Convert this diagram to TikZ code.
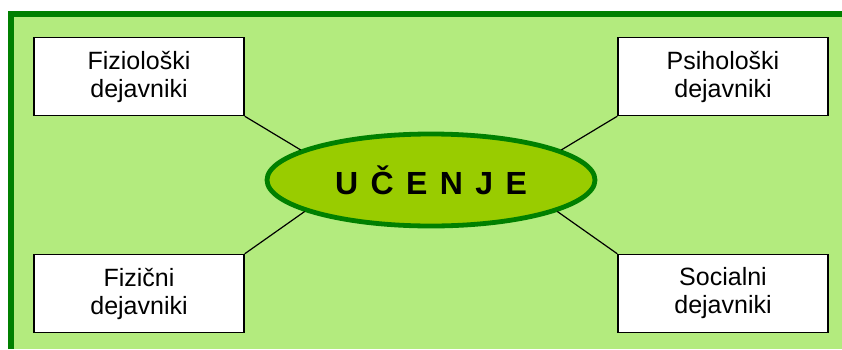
\documentclass[tikz,border=0pt]{standalone}
\usepackage{fontspec}
\setmainfont{Liberation Sans}
\usetikzlibrary{shapes.geometric}
\definecolor{panelgreen}{RGB}{179,235,126}
\definecolor{framegreen}{RGB}{0,128,0}
\definecolor{corefill}{RGB}{153,204,0}
\newcommand{\lgap}{\hspace{6.2pt}}

\begin{document}
\begin{tikzpicture}[
    x=0.5pt, y=-0.5pt,
    factor/.style={draw=black, line width=0.75pt, fill=white, align=center, inner sep=0pt,
        minimum width=105pt, minimum height=39pt, font=\fontsize{12.5}{14}\selectfont},
    core/.style={ellipse, draw=framegreen, line width=2.4pt, fill=corefill, inner sep=0pt,
        minimum width=164pt, minimum height=46pt, font=\fontsize{16}{18}\selectfont\bfseries},
    link/.style={line width=0.6pt, black}
]
\useasboundingbox (0,0) rectangle (842,349);
% panel
\fill[panelgreen] (11,14) rectangle (842,349);
\draw[framegreen, line width=3pt] (11,349) -- (11,14) -- (842,14);

\node[core] (learn) at (431,180) {U\lgap Č\lgap E\lgap N\lgap J\lgap E};

\node[factor] (physio) at (139,76.5) {Fiziološki\\dejavniki};
\node[factor] (psycho) at (723,76.5) {Psihološki\\dejavniki};
\node[factor] (physic) at (139,293.5) {Fizični\\dejavniki};
\node[factor] (social) at (723,293.5) {Socialni\\dejavniki};

\draw[link] (physio.south east) -- (learn.167);
\draw[link] (psycho.south west) -- (learn.13);
\draw[link] (physic.north east) -- (learn.194);
\draw[link] (social.north west) -- (learn.346);
\end{tikzpicture}
\end{document}
